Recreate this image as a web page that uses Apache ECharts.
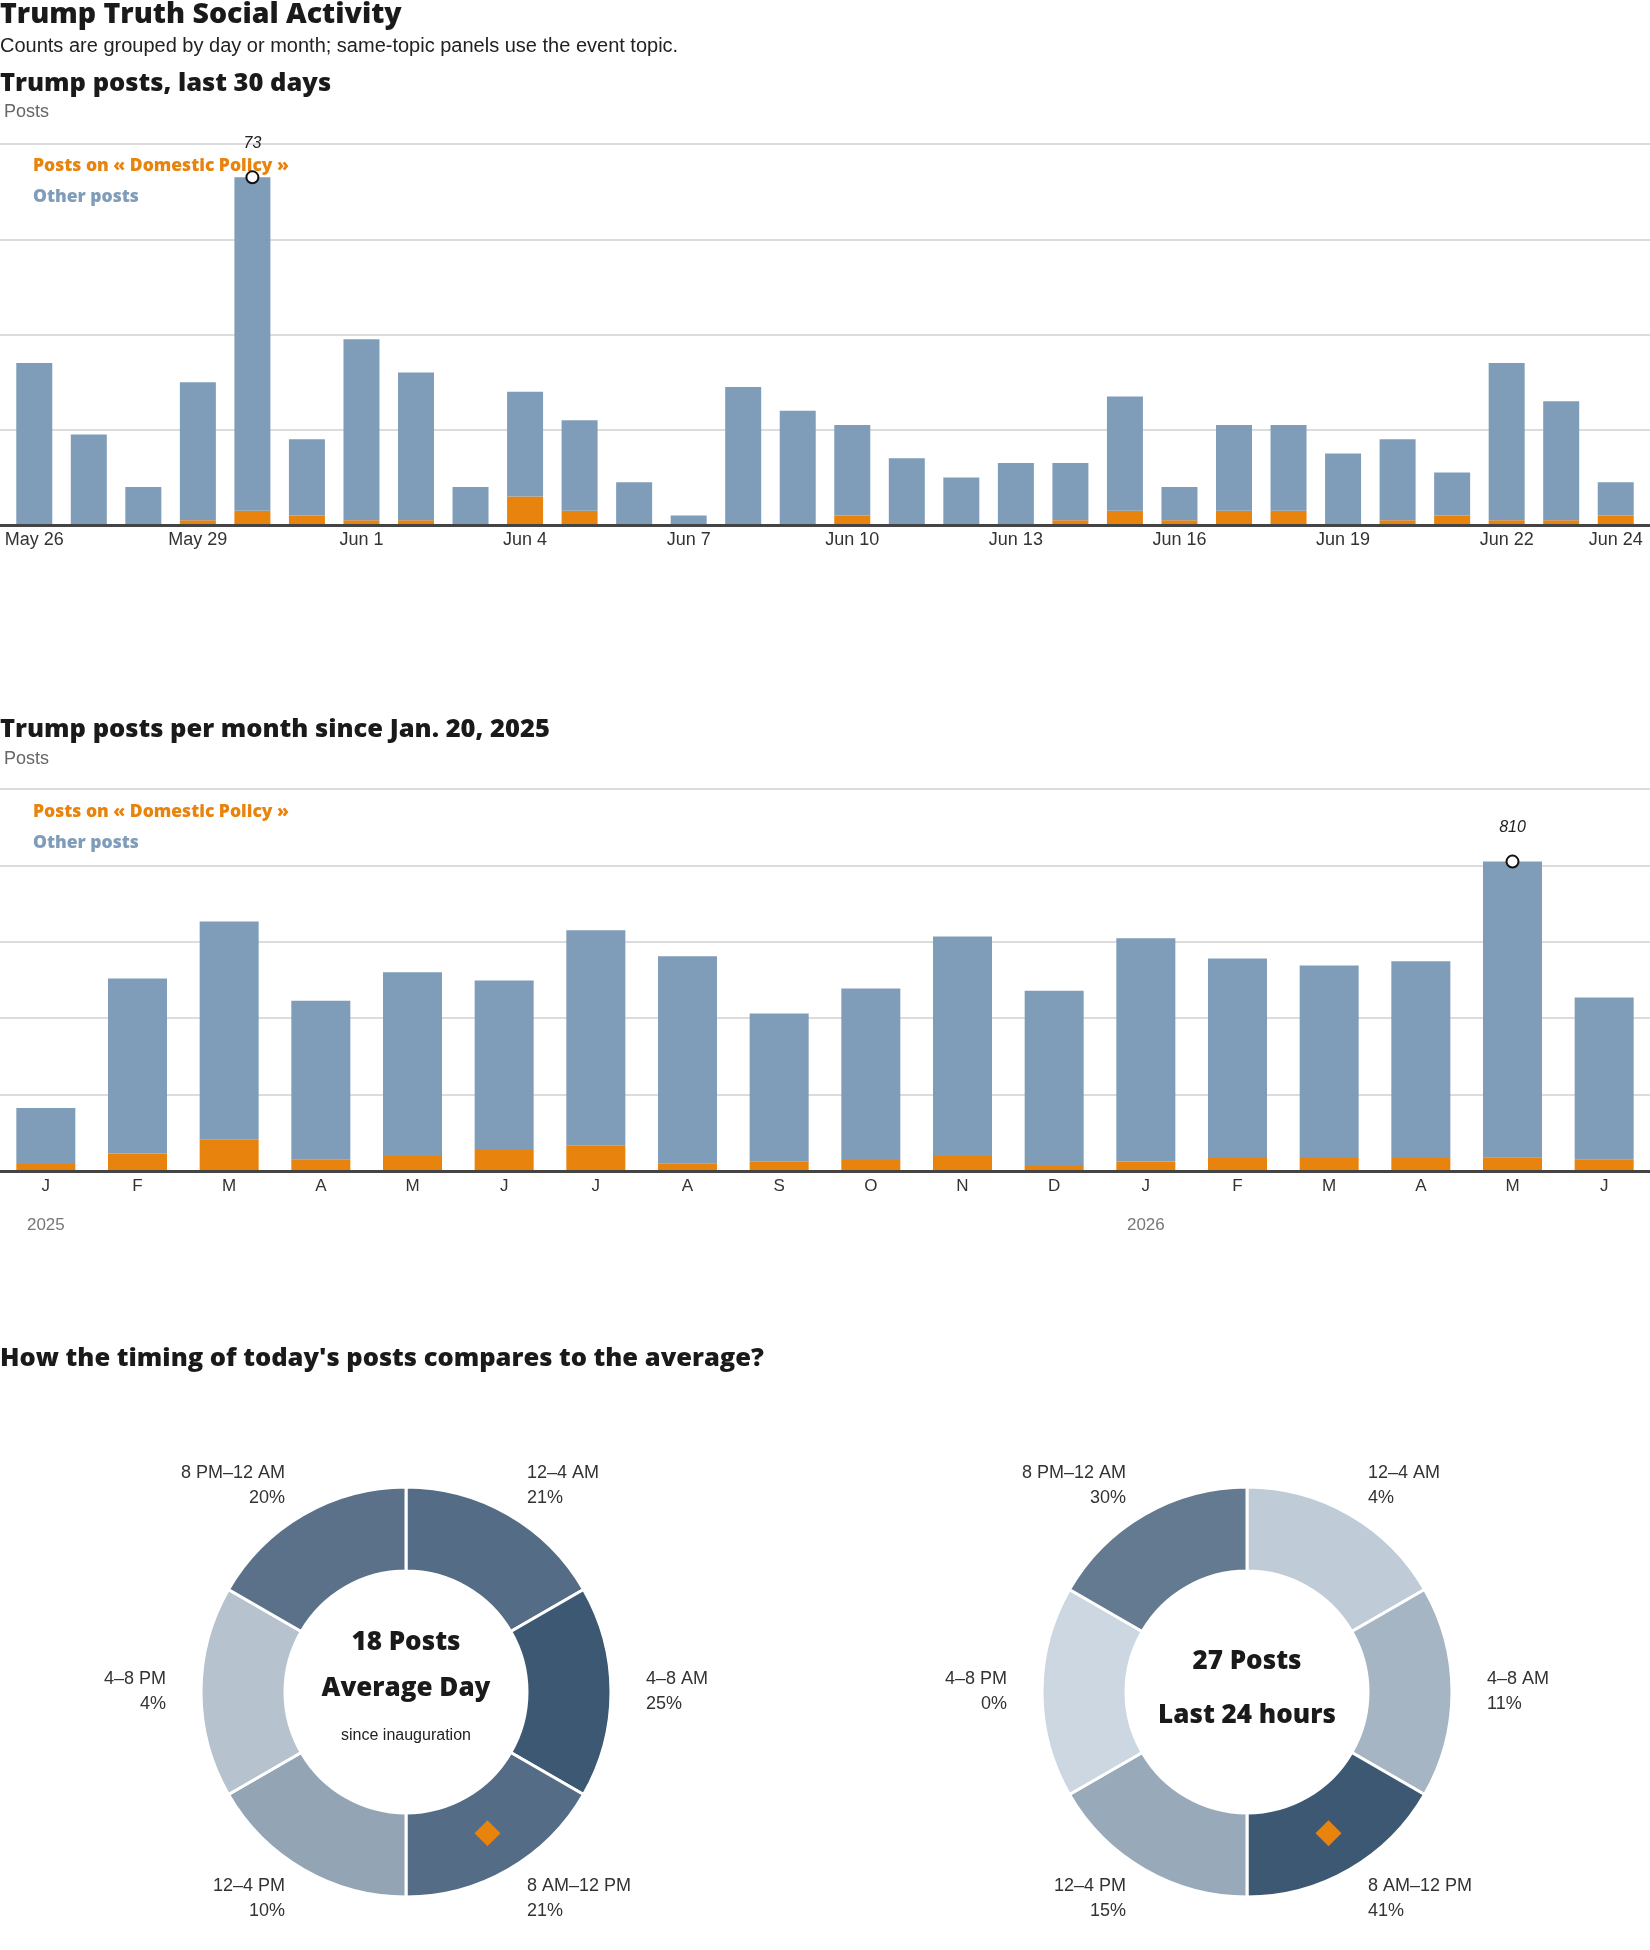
<!doctype html>
<html lang="en">
<head>
<meta charset="utf-8">
<title>Trump Truth Social Activity</title>
<script src="https://cdn.jsdelivr.net/npm/echarts@6/dist/echarts.min.js"></script>
<style>
  html, body { margin: 0; padding: 0; background: #fff; }
  #chart { width: 1650px; height: 1950px; }
</style>
</head>
<body>
<div id="chart"></div>
<script>
// daily panel, last 30 days
var dayLabels = ['May 26', 'May 27', 'May 28', 'May 29', 'May 30', 'May 31',
    'Jun 1', 'Jun 2', 'Jun 3', 'Jun 4', 'Jun 5', 'Jun 6', 'Jun 7', 'Jun 8', 'Jun 9',
    'Jun 10', 'Jun 11', 'Jun 12', 'Jun 13', 'Jun 14', 'Jun 15', 'Jun 16', 'Jun 17',
    'Jun 18', 'Jun 19', 'Jun 20', 'Jun 21', 'Jun 22', 'Jun 23', 'Jun 24'];
var dayTopic = [0, 0, 0, 1, 3, 2, 1, 1, 0, 6, 3, 0, 0, 0, 0, 2, 0, 0, 0, 1, 3, 1, 3, 3, 0, 1, 2, 1, 1, 2];
var dayOther = [34, 19, 8, 29, 70, 16, 38, 31, 8, 22, 19, 9, 2, 29, 24, 19, 14, 10, 13, 12, 24, 7, 18, 18, 15, 17, 9, 33, 25, 7];

// monthly panel since inauguration
var monthLabels = ['J', 'F', 'M', 'A', 'M', 'J', 'J', 'A', 'S', 'O', 'N', 'D', 'J', 'F', 'M', 'A', 'M', 'J'];
var monthYears = ['2025', '', '', '', '', '', '', '', '', '', '', '', '2026', '', '', '', '', ''];
var monthTopic = [18, 46, 83, 31, 39, 55, 66, 20, 24, 29, 39, 13, 25, 34, 34, 34, 36, 31];
var monthOther = [147, 458, 570, 415, 481, 444, 564, 542, 388, 449, 575, 459, 584, 522, 504, 515, 774, 423];

// time of day donuts
var slotNames = ['12–4 AM', '4–8 AM', '8 AM–12 PM', '12–4 PM', '4–8 PM', '8 PM–12 AM'];
var slotHours = [4, 4, 4, 4, 4, 4];
var avgShare = [21, 25, 21, 10, 4, 20];
var todayShare = [4, 11, 41, 15, 0, 30];
var currentSlot = 2;

var TOPIC = 'Posts on « Domestic Policy »';
var OTHER = 'Other posts';
var ORANGE = '#e8830e';
var BLUE = '#7f9db9';
var HEAVY = '"Open Sans", sans-serif';
var BODY = '"Liberation Sans", Arial, sans-serif';
var RADII = [121, 205];

function slotColor(v, max) {
    var lo = [205, 215, 225], hi = [61, 88, 115];
    var t = max ? v / max : 0;
    var c = lo.map(function (a, k) { return Math.round(a + (hi[k] - a) * t); });
    return 'rgb(' + c.join(',') + ')';
}

function peakSeries(topic, other) {
    var tot = topic.map(function (v, i) { return v + other[i]; });
    var m = Math.max.apply(null, tot);
    return tot.map(function (v) { return v === m ? v : '-'; });
}

function txt(x, y, s, size, weight, color, family, align) {
    return {
        type: 'text', x: x, y: y, silent: true,
        style: {
            text: s, fontSize: size, fontWeight: weight, fontFamily: family,
            fill: color, align: align || 'left', verticalAlign: 'middle'
        }
    };
}

function donut(center, shares) {
    var max = Math.max.apply(null, shares);
    return {
        type: 'pie', center: center, radius: RADII, startAngle: 90, clockwise: true,
        avoidLabelOverlap: false, silent: true,
        itemStyle: { borderColor: '#fff', borderWidth: 3 },
        label: {
            show: true, position: 'outside', color: '#333', fontSize: 18, lineHeight: 25,
            fontFamily: BODY, distanceToLabelLine: 2,
            formatter: function (p) { return p.name + '\n' + p.data.share + '%'; }
        },
        labelLine: { show: false, length: 33, length2: 0 },
        data: slotNames.map(function (n, i) {
            return { name: n, value: slotHours[i], share: shares[i], itemStyle: { color: slotColor(shares[i], max) } };
        })
    };
}

var peakLabel = {
    show: true, position: 'top', distance: 19, color: '#222', fontSize: 16,
    fontStyle: 'italic', fontFamily: '"Liberation Sans Narrow", sans-serif'
};

var legendBase = {
    orient: 'vertical', left: 28, itemWidth: 0, itemHeight: 0, itemGap: 11, padding: 0,
    selectedMode: false,
    textStyle: { fontFamily: HEAVY, fontWeight: 800, fontSize: 17.5, lineHeight: 20 },
    data: [{ name: TOPIC, textStyle: { color: ORANGE } }, { name: OTHER, textStyle: { color: BLUE } }]
};

var chart = echarts.init(document.getElementById('chart'));
chart.setOption({
    animation: false,
    legend: [
        Object.assign({}, legendBase, { top: 156 }),
        Object.assign({}, legendBase, { top: 802 })
    ],
    grid: [
        { left: 7, top: 144, width: 1636, height: 381 },
        { left: 0, right: 0, top: 144, height: 381 },
        { left: 0, right: 0, top: 789, height: 382 }
    ],
    xAxis: [
        {
            gridIndex: 0, type: 'category', data: dayLabels,
            axisLine: { show: false }, axisTick: { show: false },
            axisLabel: {
                margin: 6, color: '#333', fontSize: 18, fontFamily: BODY,
                interval: function (i) { return i % 3 === 0 || i === dayLabels.length - 1; }
            }
        },
        {
            gridIndex: 1, type: 'value', min: 0, max: 1, z: 5,
            axisLine: { show: true, lineStyle: { color: '#444', width: 3 } },
            axisTick: { show: false }, axisLabel: { show: false }, splitLine: { show: false }
        },
        {
            gridIndex: 2, type: 'category', data: monthLabels, z: 5,
            axisLine: { show: true, lineStyle: { color: '#444', width: 3 } },
            axisTick: { show: false },
            axisLabel: {
                interval: 0, margin: 5, color: '#333', fontSize: 17, fontFamily: BODY, lineHeight: 20,
                formatter: function (v, i) {
                    return monthYears[i] ? v + '\n{yr|' + monthYears[i] + '}' : v;
                },
                rich: { yr: { color: '#777', fontSize: 17, fontFamily: BODY, lineHeight: 58 } }
            }
        }
    ],
    yAxis: [
        { gridIndex: 0, type: 'value', min: 0, max: 80, interval: 20, show: false, splitLine: { show: false } },
        {
            gridIndex: 1, type: 'value', min: 0, max: 80, interval: 20,
            axisLine: { show: false }, axisTick: { show: false }, axisLabel: { show: false },
            splitLine: { show: true, lineStyle: { color: '#dcdcdc', width: 2 } }
        },
        {
            gridIndex: 2, type: 'value', min: 0, max: 1000, interval: 200,
            axisLine: { show: false }, axisTick: { show: false }, axisLabel: { show: false },
            splitLine: { show: true, lineStyle: { color: '#dcdcdc', width: 2 } }
        }
    ],
    polar: [
        { center: [406, 1692], radius: RADII[1] },
        { center: [1247, 1692], radius: RADII[1] }
    ],
    angleAxis: [
        { polarIndex: 0, type: 'category', data: slotNames, startAngle: 90, show: false },
        { polarIndex: 1, type: 'category', data: slotNames, startAngle: 90, show: false }
    ],
    radiusAxis: [
        { polarIndex: 0, min: 0, max: RADII[1], show: false },
        { polarIndex: 1, min: 0, max: RADII[1], show: false }
    ],
    series: [
        { name: TOPIC, type: 'bar', stack: 'day', xAxisIndex: 0, yAxisIndex: 0, barWidth: 36, itemStyle: { color: ORANGE }, data: dayTopic },
        { name: OTHER, type: 'bar', stack: 'day', xAxisIndex: 0, yAxisIndex: 0, barWidth: 36, itemStyle: { color: BLUE }, data: dayOther },
        {
            type: 'scatter', xAxisIndex: 0, yAxisIndex: 0, symbol: 'emptyCircle', symbolSize: 12, z: 6,
            itemStyle: { color: '#111', borderWidth: 2.5, opacity: 1 }, label: peakLabel, data: peakSeries(dayTopic, dayOther)
        },
        { name: TOPIC, type: 'bar', stack: 'month', xAxisIndex: 2, yAxisIndex: 2, barWidth: 59, itemStyle: { color: ORANGE }, data: monthTopic },
        { name: OTHER, type: 'bar', stack: 'month', xAxisIndex: 2, yAxisIndex: 2, barWidth: 59, itemStyle: { color: BLUE }, data: monthOther },
        {
            type: 'scatter', xAxisIndex: 2, yAxisIndex: 2, symbol: 'emptyCircle', symbolSize: 12, z: 6,
            itemStyle: { color: '#111', borderWidth: 2.5, opacity: 1 }, label: peakLabel, data: peakSeries(monthTopic, monthOther)
        },
        donut([406, 1692], avgShare),
        donut([1247, 1692], todayShare),
        {
            type: 'scatter', coordinateSystem: 'polar', polarIndex: 0, symbol: 'diamond', symbolSize: 26, z: 6,
            itemStyle: { color: ORANGE, opacity: 1 }, data: [[(RADII[0] + RADII[1]) / 2, currentSlot]]
        },
        {
            type: 'scatter', coordinateSystem: 'polar', polarIndex: 1, symbol: 'diamond', symbolSize: 26, z: 6,
            itemStyle: { color: ORANGE, opacity: 1 }, data: [[(RADII[0] + RADII[1]) / 2, currentSlot]]
        }
    ],
    graphic: [
        txt(0, 15, 'Trump Truth Social Activity', 28.5, 800, '#1a1a1a', HEAVY),
        txt(0, 46, 'Counts are grouped by day or month; same-topic panels use the event topic.', 20, 'normal', '#222', BODY),
        txt(0, 84, 'Trump posts, last 30 days', 25.5, 800, '#1a1a1a', HEAVY),
        txt(4, 112, 'Posts', 18, 'normal', '#666', BODY),
        txt(0, 730, 'Trump posts per month since Jan. 20, 2025', 25.5, 800, '#1a1a1a', HEAVY),
        txt(4, 759, 'Posts', 18, 'normal', '#666', BODY),
        txt(0, 1359, "How the timing of today's posts compares to the average?", 25.5, 800, '#1a1a1a', HEAVY),
        txt(406, 1643, '18 Posts', 26, 800, '#1a1a1a', HEAVY, 'center'),
        txt(406, 1689, 'Average Day', 26, 800, '#1a1a1a', HEAVY, 'center'),
        txt(406, 1736, 'since inauguration', 16, 'normal', '#222', BODY, 'center'),
        txt(1247, 1662, '27 Posts', 26, 800, '#1a1a1a', HEAVY, 'center'),
        txt(1247, 1716, 'Last 24 hours', 26, 800, '#1a1a1a', HEAVY, 'center')
    ]
});
</script>
</body>
</html>
